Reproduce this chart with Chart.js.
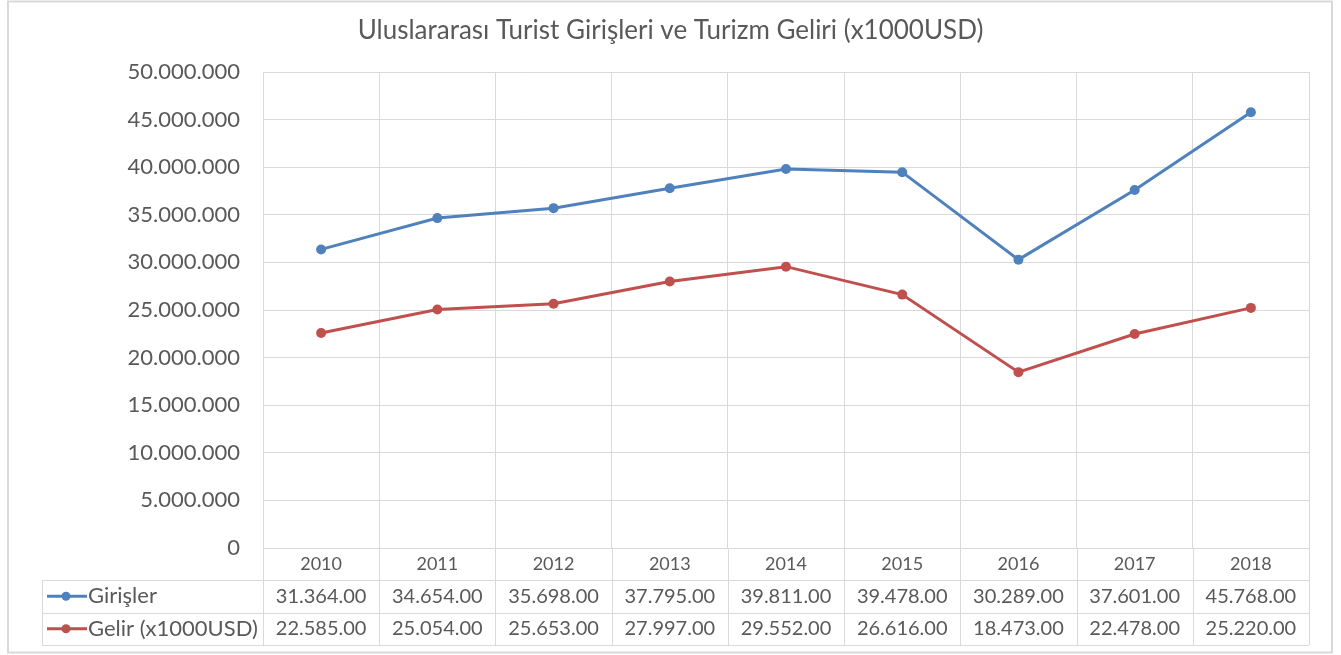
<!DOCTYPE html>
<html>
<head>
<meta charset="utf-8">
<script src="https://cdn.jsdelivr.net/npm/chart.js@4/dist/chart.umd.min.js"></script>
<style>
html,body{margin:0;padding:0;background:#fff;}
#wrap{width:1341px;height:655px;position:relative;}
</style>
</head>
<body>
<div id="wrap"><canvas id="c" width="1341" height="655"></canvas></div>
<script>
const titleText = 'Uluslararası Turist Girişleri ve Turizm Geliri (x1000USD)';
const years = ['2010','2011','2012','2013','2014','2015','2016','2017','2018'];
const seriesNames = ['Girişler', 'Gelir (x1000USD)'];
const girisler = [31364000, 34654000, 35698000, 37795000, 39811000, 39478000, 30289000, 37601000, 45768000];
const gelir = [22585000, 25054000, 25653000, 27997000, 29552000, 26616000, 18473000, 22478000, 25220000];
const yMin = 0, yMax = 50000000, yStep = 5000000;
const seriesColors = ['#4F81BD', '#C0504D'];

const FONT = 'Lato, "Open Sans", sans-serif';
const TXT = '#595959';
const GRID = '#d9d9d9';

function dots(n) {
  return String(n).replace(/\B(?=(\d{3})+(?!\d))/g, '.');
}
function tableLabel(v) {
  return dots(Math.round(v / 1000)) + '.00';
}

const tablePlugin = {
  id: 'dataTable',
  beforeDraw(chart) {
    const ctx = chart.ctx;
    ctx.save();
    ctx.fillStyle = '#fff';
    ctx.fillRect(0, 0, chart.width, chart.height);
    ctx.strokeStyle = GRID;
    ctx.lineWidth = 2;
    ctx.strokeRect(8, 1.5, 1324, 651);
    ctx.restore();
  },
  afterDraw(chart) {
    const ctx = chart.ctx;
    const xs = chart.scales.x;
    const area = chart.chartArea;
    const n = years.length;
    const colW = (area.right - area.left) / n;
    const top = area.bottom;
    const rows = [top + 32, top + 64.5, top + 97];
    const tableLeft = 42;
    ctx.save();
    ctx.strokeStyle = GRID;
    ctx.lineWidth = 1;
    for (let i = 0; i <= n; i++) {
      const x = Math.round(area.left + i * colW) + 0.5;
      ctx.beginPath(); ctx.moveTo(x, top); ctx.lineTo(x, rows[2]); ctx.stroke();
    }
    ctx.beginPath(); ctx.moveTo(tableLeft + 0.5, rows[0]); ctx.lineTo(tableLeft + 0.5, rows[2]); ctx.stroke();
    rows.forEach(y => {
      ctx.beginPath(); ctx.moveTo(tableLeft, Math.round(y) + 0.5); ctx.lineTo(area.right, Math.round(y) + 0.5); ctx.stroke();
    });
    const data = [girisler, gelir];
    ctx.textBaseline = 'middle';
    for (let r = 0; r < 2; r++) {
      const cy = (r === 0 ? (rows[0] + rows[1]) / 2 : (rows[1] + rows[2]) / 2);
      ctx.strokeStyle = seriesColors[r];
      ctx.lineWidth = 3;
      ctx.beginPath(); ctx.moveTo(47, cy); ctx.lineTo(87, cy); ctx.stroke();
      ctx.fillStyle = seriesColors[r];
      ctx.beginPath(); ctx.arc(66, cy, 4.5, 0, Math.PI * 2); ctx.fill();
      ctx.fillStyle = TXT;
      ctx.textAlign = 'left';
      ctx.font = '22px ' + FONT;
      ctx.fillText(seriesNames[r], 88, cy);
      ctx.textAlign = 'center';
      ctx.font = '20px ' + FONT;
      for (let i = 0; i < n; i++) {
        ctx.fillText(tableLabel(data[r][i]), xs.getPixelForValue(i), cy);
      }
    }
    ctx.restore();
  }
};

new Chart(document.getElementById('c'), {
  type: 'line',
  data: {
    labels: years,
    datasets: [
      { label: seriesNames[0], data: girisler, borderColor: seriesColors[0], backgroundColor: seriesColors[0],
        borderWidth: 3, pointRadius: 5, pointBorderWidth: 0, pointBackgroundColor: seriesColors[0], tension: 0 },
      { label: seriesNames[1], data: gelir, borderColor: seriesColors[1], backgroundColor: seriesColors[1],
        borderWidth: 3, pointRadius: 5, pointBorderWidth: 0, pointBackgroundColor: seriesColors[1], tension: 0 }
    ]
  },
  options: {
    responsive: false,
    devicePixelRatio: 1,
    animation: false,
    events: [],
    layout: { padding: 0 },
    plugins: {
      legend: { display: false },
      tooltip: { enabled: false },
      title: {
        display: true, text: titleText, color: TXT,
        font: { family: FONT, size: 26, weight: 'normal', lineHeight: 1.2 },
        padding: { top: 15.4, bottom: 25.4 }
      }
    },
    scales: {
      x: {
        offset: true,
        grid: { offset: true, color: GRID, drawTicks: false },
        border: { display: false },
        ticks: { color: TXT, font: { family: FONT, size: 18 }, padding: 5, maxRotation: 0 },
        afterFit(s) { s.height = 107; }
      },
      y: {
        min: yMin, max: yMax,
        grid: { color: GRID, drawTicks: false },
        border: { display: false },
        ticks: { stepSize: yStep, color: TXT, font: { family: FONT, size: 22 }, padding: 23,
          callback: v => dots(v) },
        afterFit(s) { s.width = 263; }
      },
      yRight: {
        position: 'right',
        display: true,
        min: yMin, max: yMax,
        grid: { display: false },
        border: { display: false },
        ticks: { display: false },
        afterFit(s) { s.width = 32; }
      }
    }
  },
  plugins: [tablePlugin]
});
</script>
</body>
</html>
